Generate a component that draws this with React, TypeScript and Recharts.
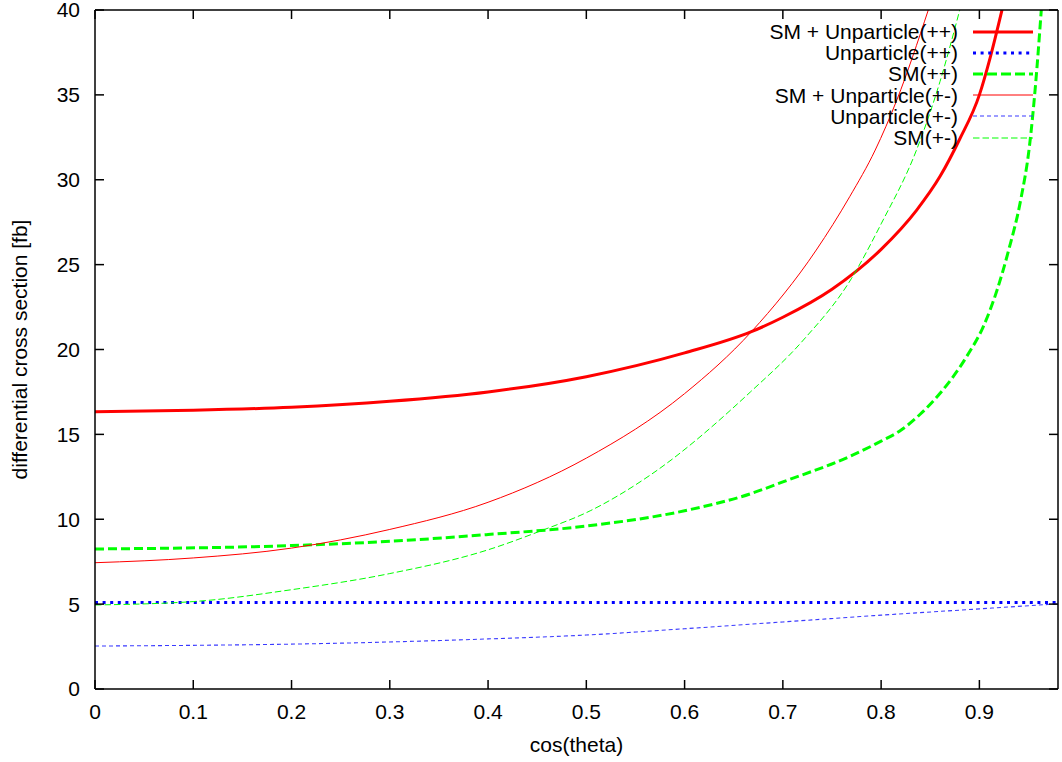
import React from 'react';
import { LineChart, Line, XAxis, YAxis, Legend } from 'recharts';

// ---- data ----
const xTicks = [0, 0.1, 0.2, 0.3, 0.4, 0.5, 0.6, 0.7, 0.8, 0.9];
const yTicks = [0, 5, 10, 15, 20, 25, 30, 35, 40];

const smUnpPPx = [0, 0.1, 0.2, 0.3, 0.4, 0.5, 0.6, 0.668, 0.7, 0.75, 0.8, 0.836, 0.86, 0.88, 0.9, 0.911, 0.923];
const smUnpPPy = [16.34, 16.42, 16.6, 16.95, 17.5, 18.4, 19.8, 21.05, 21.9, 23.55, 25.9, 28.2, 30.2, 32.4, 35.0, 37.2, 40];

const unpPPx = [0, 0.98];
const unpPPy = [5.09, 5.09];

const smPPx = [0, 0.2, 0.3, 0.4, 0.5, 0.6, 0.667, 0.7, 0.768, 0.8, 0.819, 0.84, 0.86, 0.887, 0.904, 0.918, 0.93, 0.942, 0.951, 0.957, 0.963];
const smPPy = [8.25, 8.45, 8.7, 9.1, 9.6, 10.5, 11.5, 12.2, 13.7, 14.6, 15.2, 16.2, 17.42, 19.58, 21.35, 23.5, 25.9, 28.8, 32.0, 35.5, 40];

const smUnpPMx = [0, 0.1, 0.2, 0.3, 0.4, 0.5, 0.6, 0.668, 0.734, 0.768, 0.794, 0.816, 0.848];
const smUnpPMy = [7.44, 7.72, 8.3, 9.4, 11.0, 13.6, 17.4, 21.05, 25.86, 29.0, 31.75, 34.7, 40];

const unpPMx = [0, 0.25, 0.4, 0.5, 0.6, 0.7, 0.8, 0.9, 0.98];
const unpPMy = [2.53, 2.7, 2.95, 3.18, 3.55, 3.95, 4.35, 4.72, 5.02];

const smPMx = [0, 0.1, 0.2, 0.3, 0.4, 0.453, 0.504, 0.565, 0.667, 0.72, 0.77, 0.8, 0.836, 0.86, 0.88];
const smPMy = [4.95, 5.15, 5.85, 6.8, 8.2, 9.3, 10.5, 12.6, 17.5, 20.5, 24.2, 27.4, 31.75, 35.8, 40];

const zip = (xs: number[], ys: number[]) => xs.map((x, i) => ({ x, y: ys[i] }));

const series = [
  { name: 'SM + Unparticle(++)', data: zip(smUnpPPx, smUnpPPy), color: '#ff0000', width: 3, dash: undefined as string | undefined, legendDash: undefined as string | undefined },
  { name: 'Unparticle(++)', data: zip(unpPPx, unpPPy), color: '#0000ff', width: 3, dash: '3 4.6', legendDash: '3 4.6' },
  { name: 'SM(++)', data: zip(smPPx, smPPy), color: '#00ff00', width: 3, dash: '9 4', legendDash: '10 4' },
  { name: 'SM + Unparticle(+-)', data: zip(smUnpPMx, smUnpPMy), color: '#ff0000', width: 1, dash: undefined, legendDash: undefined },
  { name: 'Unparticle(+-)', data: zip(unpPMx, unpPMy), color: '#3a3aff', width: 1.1, dash: '4 3', legendDash: '4 3' },
  { name: 'SM(+-)', data: zip(smPMx, smPMy), color: '#00ff00', width: 1, dash: '6.5 3', legendDash: '6.5 3' },
];

const FONT = '"Liberation Sans", Arial, Helvetica, sans-serif';
const FS = 21;

const LegendContent = () => (
  <div style={{ fontFamily: FONT, fontSize: FS, color: '#000' }}>
    {series.map((s) => (
      <div key={s.name} style={{ display: 'flex', alignItems: 'center', height: 21.2 }}>
        <div style={{ flex: 1, textAlign: 'right', lineHeight: '21px', whiteSpace: 'nowrap' }}>{s.name}</div>
        <svg width={60} height={10} style={{ marginLeft: 15, marginRight: 27, display: 'block' }}>
          <line x1={0} y1={5} x2={60} y2={5} stroke={s.color} strokeWidth={s.width} strokeDasharray={s.legendDash} />
        </svg>
      </div>
    ))}
  </div>
);

const tickStyle = { fontFamily: FONT, fontSize: FS, fill: '#000' };

export default function App() {
  return (
    <div style={{ position: 'absolute', left: 0, top: 0, background: '#fff' }}>
      <LineChart width={1062} height={762} margin={{ top: 9, right: 3, bottom: 0, left: 0 }}>
        <XAxis
          xAxisId="bottom"
          type="number"
          dataKey="x"
          domain={[0, 0.98]}
          ticks={xTicks}
          allowDataOverflow
          height={73}
          tickSize={-9}
          tickMargin={24}
          tick={tickStyle}
          stroke="#000"
          axisLine={{ stroke: '#000', strokeWidth: 1.5 }}
          tickLine={{ stroke: '#000', strokeWidth: 1.5 }}
          interval={0}
          label={{ value: 'cos(theta)', position: 'insideBottom', offset: 10, style: { fontFamily: FONT, fontSize: FS, fill: '#000' } }}
        />
        <XAxis
          xAxisId="top"
          orientation="top"
          type="number"
          dataKey="x"
          domain={[0, 0.98]}
          ticks={xTicks}
          allowDataOverflow
          height={1}
          tickSize={-9}
          tickFormatter={() => ''}
          stroke="#000"
          axisLine={{ stroke: '#000', strokeWidth: 1.5 }}
          tickLine={{ stroke: '#000', strokeWidth: 1.5 }}
          interval={0}
        />
        <YAxis
          yAxisId="left"
          type="number"
          domain={[0, 40]}
          ticks={yTicks}
          allowDataOverflow
          width={95}
          tickSize={-9}
          tickMargin={24}
          tick={tickStyle}
          stroke="#000"
          axisLine={{ stroke: '#000', strokeWidth: 1.5 }}
          tickLine={{ stroke: '#000', strokeWidth: 1.5 }}
          interval={0}
          label={{ value: 'differential cross section [fb]', angle: -90, position: 'insideLeft', offset: 20, style: { textAnchor: 'middle', fontFamily: FONT, fontSize: FS, fill: '#000' } }}
        />
        <YAxis
          yAxisId="right"
          orientation="right"
          type="number"
          domain={[0, 40]}
          ticks={yTicks}
          allowDataOverflow
          width={1}
          tickSize={-9}
          tickFormatter={() => ''}
          stroke="#000"
          axisLine={{ stroke: '#000', strokeWidth: 1.5 }}
          tickLine={{ stroke: '#000', strokeWidth: 1.5 }}
          interval={0}
        />
        <Legend
          layout="vertical"
          align="center"
          verticalAlign="middle"
          content={<LegendContent />}
          wrapperStyle={{ position: 'absolute', top: 21, left: 700, width: 360, height: 130 }}
        />
        {series.map((s) => (
          <Line
            key={s.name}
            xAxisId="bottom"
            yAxisId="left"
            data={s.data}
            dataKey="y"
            name={s.name}
            type="monotone"
            stroke={s.color}
            strokeWidth={s.width}
            strokeDasharray={s.dash}
            dot={false}
            activeDot={false}
            isAnimationActive={false}
          />
        ))}
      </LineChart>
    </div>
  );
}
